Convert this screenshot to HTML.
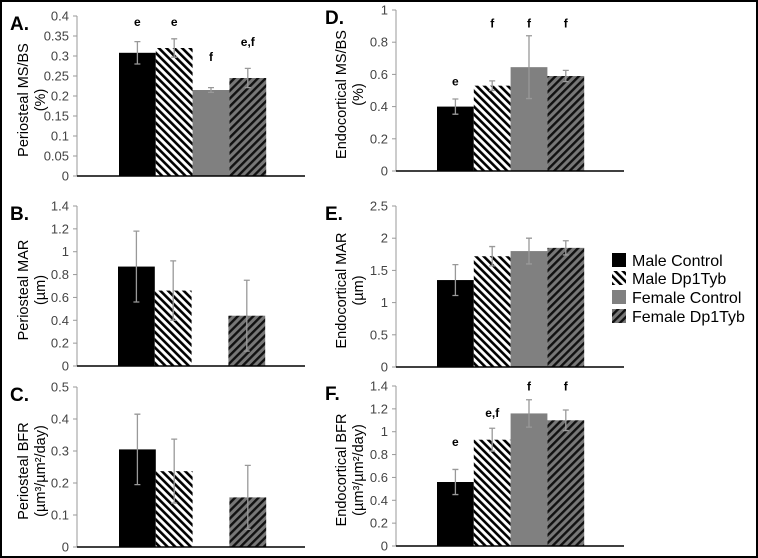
<!DOCTYPE html>
<html><head><meta charset="utf-8"><style>
body{margin:0;background:#fff;}
svg{display:block;font-family:"Liberation Sans",Arial,sans-serif;}
</style></head><body>
<svg id="fig" width="758" height="558" viewBox="0 0 758 558" xmlns="http://www.w3.org/2000/svg">
<defs>
<pattern id="hatchM" patternUnits="userSpaceOnUse" width="5.5" height="5.5" patternTransform="rotate(-45)">
<rect width="5.5" height="5.5" fill="#fff"/><rect x="0" y="0" width="2.6" height="5.5" fill="#000"/></pattern>
<pattern id="hatchF" patternUnits="userSpaceOnUse" width="5.5" height="5.5" patternTransform="rotate(45)">
<rect width="5.5" height="5.5" fill="#777"/><rect x="0" y="0" width="2.4" height="5.5" fill="#111"/></pattern>
</defs>
<rect x="1" y="1" width="756" height="556" fill="#fff" stroke="#000" stroke-width="2"/>
<g id="plots"></g>
<g font-size="16">
<rect x="612" y="253" width="14" height="14" fill="#000"/>
<text x="632" y="266">Male Control</text>
<rect x="612" y="271" width="14" height="14" fill="url(#hatchM)"/>
<text x="632" y="284">Male Dp1Tyb</text>
<rect x="612" y="290" width="14" height="14" fill="#808080"/>
<text x="632" y="303">Female Control</text>
<rect x="612" y="309" width="14" height="14" fill="url(#hatchF)"/>
<text x="632" y="322">Female Dp1Tyb</text>
</g>
</svg>
<script>
const groups = ["Male Control","Male Dp1Tyb","Female Control","Female Dp1Tyb"];
const fills = ["#000","url(#hatchM)","#808080","url(#hatchF)"];
const valsA = [0.308,0.320,0.215,0.245]; const errA = [0.028,0.023,0.006,0.024]; const sigA = ["e","e","f","e,f"]; const sigLevA = [0.375,0.375,0.2875,0.325];
const ticksA = ["0","0.05","0.1","0.15","0.2","0.25","0.3","0.35","0.4"];
const valsB = [0.87,0.66,null,0.44]; const errB = [0.31,0.26,null,0.31]; const sigB = ["","","",""]; const sigLevB = [0,0,0,0];
const ticksB = ["0","0.2","0.4","0.6","0.8","1","1.2","1.4"];
const valsC = [0.305,0.237,null,0.155]; const errC = [0.11,0.10,null,0.10]; const sigC = ["","","",""]; const sigLevC = [0,0,0,0];
const ticksC = ["0","0.1","0.2","0.3","0.4","0.5"];
const valsD = [0.40,0.53,0.645,0.59]; const errD = [0.047,0.03,0.195,0.035]; const sigD = ["e","f","f","f"]; const sigLevD = [0.53,0.89,0.89,0.89];
const ticksD = ["0","0.2","0.4","0.6","0.8","1"];
const valsE = [1.35,1.72,1.80,1.85]; const errE = [0.24,0.15,0.20,0.11]; const sigE = ["","","",""]; const sigLevE = [0,0,0,0];
const ticksE = ["0","0.5","1","1.5","2","2.5"];
const valsF = [0.56,0.93,1.16,1.10]; const errF = [0.11,0.10,0.12,0.09]; const sigF = ["e","e,f","f","f"]; const sigLevF = [0.875,1.13,1.36,1.36];
const ticksF = ["0","0.2","0.4","0.6","0.8","1","1.2","1.4"];

const NS="http://www.w3.org/2000/svg";
const root=document.getElementById('plots');
function mk(tag,attrs,parent){const e=document.createElementNS(NS,tag);for(const k in attrs)e.setAttribute(k,attrs[k]);parent.appendChild(e);return e;}
const panels=[
 {id:"a",letter:"A.",vals:valsA,err:errA,sig:sigA,lev:sigLevA,ticks:ticksA,ax:77,bx:119,top:16,bot:176,t1:"Periosteal MS/BS",t2:"(%)",lx:10,tx:22},
 {id:"b",letter:"B.",vals:valsB,err:errB,sig:sigB,lev:sigLevB,ticks:ticksB,ax:77,bx:118,top:206,bot:366,t1:"Periosteal MAR",t2:"(µm)",lx:10,tx:22},
 {id:"c",letter:"C.",vals:valsC,err:errC,sig:sigC,lev:sigLevC,ticks:ticksC,ax:77,bx:119,top:387,bot:547,t1:"Periosteal BFR",t2:"(µm³/µm²/day)",lx:10,tx:22},
 {id:"d",letter:"D.",vals:valsD,err:errD,sig:sigD,lev:sigLevD,ticks:ticksD,ax:396,bx:437,top:10,bot:171,t1:"Endocortical MS/BS",t2:"(%)",lx:325,tx:340},
 {id:"e",letter:"E.",vals:valsE,err:errE,sig:sigE,lev:sigLevE,ticks:ticksE,ax:396,bx:437,top:206,bot:367,t1:"Endocortical MAR",t2:"(µm)",lx:325,tx:340},
 {id:"f",letter:"F.",vals:valsF,err:errF,sig:sigF,lev:sigLevF,ticks:ticksF,ax:396,bx:437,top:386,bot:546,t1:"Endocortical BFR",t2:"(µm³/µm²/day)",lx:325,tx:340}
];
const bw=36.8;
panels.forEach(p=>{
 const g=mk('g',{},root);
 
 
 const tmax=parseFloat(p.ticks[p.ticks.length-1]);
 const y=v=>p.bot-(v/tmax)*(p.bot-p.top);
 const axEnd=p.ax+228;
 const yl=mk('line',{x1:p.ax,y1:p.top,x2:p.ax,y2:p.bot,stroke:'#999','stroke-width':1},g);
 
 
 p.ticks.forEach(t=>{
  const ty=y(parseFloat(t));
  mk('line',{x1:p.ax-4,y1:ty,x2:p.ax,y2:ty,stroke:'#999'},g);
  const tl=mk('text',{x:p.ax-8,y:ty+4.5,'text-anchor':'end','font-size':13,fill:'#444'},g);
  tl.textContent=t;
  
  
 });
 p.vals.forEach((v,i)=>{
  const x=p.bx+i*bw;
  if(v!==null){
   const r=mk('rect',{x:x,y:y(v),width:bw,height:p.bot-y(v),fill:fills[i]},g);
   
   
   const cx=x+bw/2, e=p.err[i];
   const eb=mk('path',{d:`M${cx},${y(v-e)}V${y(v+e)}M${cx-3},${y(v-e)}H${cx+3}M${cx-3},${y(v+e)}H${cx+3}`,stroke:'#999','stroke-width':1.3,fill:'none'},g);
   
   
  }
  if(p.sig[i]){
   const st=mk('text',{x:x+bw/2,y:y(p.lev[i]),'text-anchor':'middle','font-size':12,'font-weight':'bold'},g);
   st.textContent=p.sig[i];
   
   
  }
 });
 const xl=mk('line',{x1:p.ax,y1:p.bot,x2:axEnd,y2:p.bot,stroke:'#000','stroke-width':1.5},g);
 
 
 const lt=mk('text',{x:p.lx,y:p.top+14,'font-size':19,'font-weight':'bold'},g);
 lt.textContent=p.letter;
 
 
 const cy=(p.top+p.bot)/2+4;
 const tt=mk('text',{transform:`translate(${p.tx+6},${cy}) rotate(-90)`,'text-anchor':'middle','font-size':14.5},g);
 
 
 const s1=mk('tspan',{x:0,y:0},tt); s1.textContent=p.t1;
 const s2=mk('tspan',{x:0,y:17},tt); s2.textContent=p.t2;
});
</script>
</body></html>
